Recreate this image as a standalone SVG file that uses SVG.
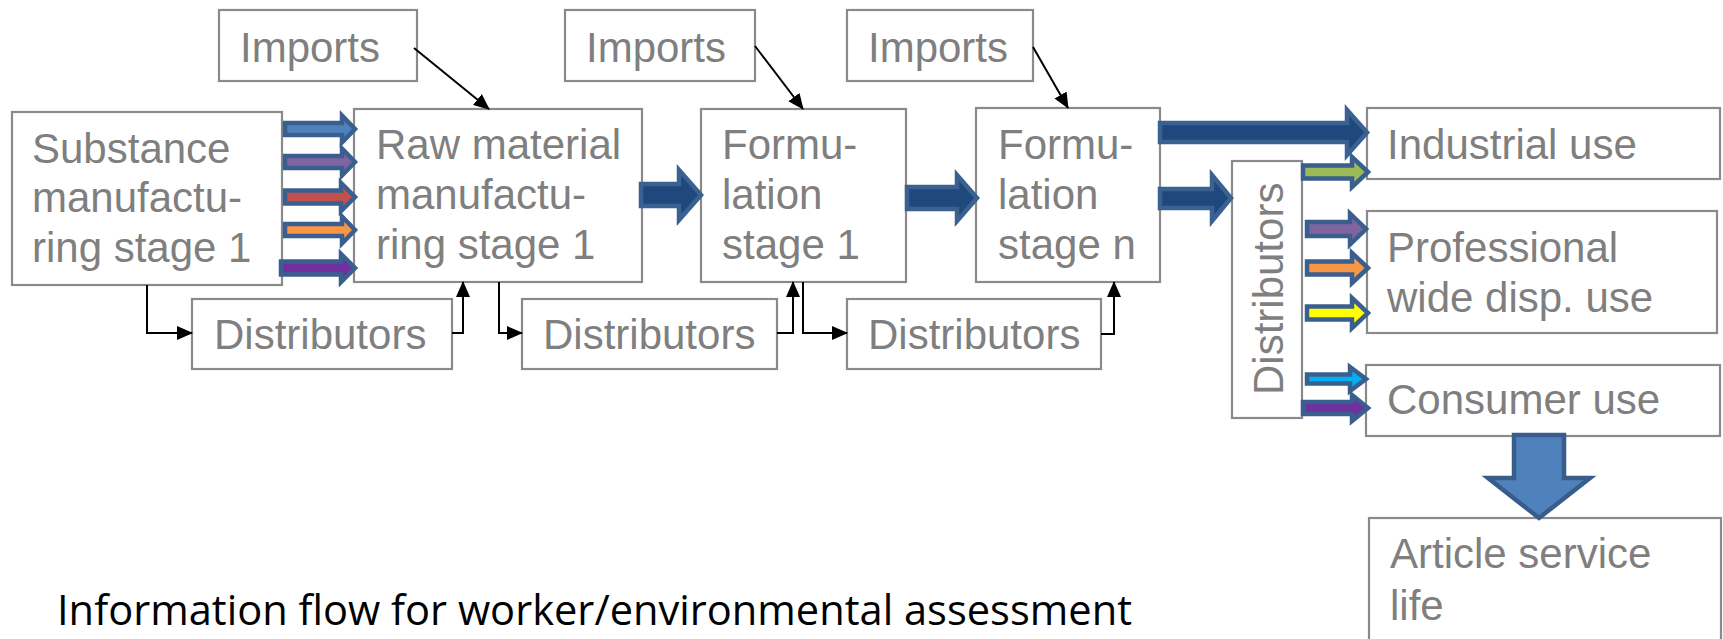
<svg xmlns="http://www.w3.org/2000/svg" width="1723" height="639" viewBox="0 0 1723 639">
  <style>
    .box { fill: #ffffff; stroke: #8a8a8a; stroke-width: 2.2; }
    .lbl { font-family: "Liberation Sans", Arial, sans-serif; font-size: 42px; fill: #7f7f7f; }
    .link { fill: none; stroke: #000000; stroke-width: 2; }
    .big { fill: #1f497d; stroke: #3a6190; stroke-width: 4.5; stroke-linejoin: miter; }
    .small { stroke: #3a5f8f; stroke-width: 4.5; stroke-linejoin: miter; }
    .down { fill: #4f81bd; stroke: #385d8a; stroke-width: 4.5; stroke-linejoin: miter; }
    .caption { font-family: "Open Sans", "Noto Sans", sans-serif; font-size: 42px; fill: #000000; }
  </style>
  <defs>
    <marker id="tri" markerUnits="userSpaceOnUse" markerWidth="16" markerHeight="14" refX="15" refY="7" orient="auto">
      <path d="M0,0 L16,7 L0,14 Z" fill="#000000"/>
    </marker>
  </defs>

  <rect width="1723" height="639" fill="#ffffff"/>

  <!-- upstream stages -->
  <g id="imports-1">
    <rect class="box" x="219" y="10" width="198" height="71"/>
    <text class="lbl" x="240" y="62">Imports</text>
  </g>
  <g id="imports-2">
    <rect class="box" x="565" y="10" width="190" height="71"/>
    <text class="lbl" x="586" y="62">Imports</text>
  </g>
  <g id="imports-3">
    <rect class="box" x="847" y="10" width="186" height="71"/>
    <text class="lbl" x="868" y="62">Imports</text>
  </g>

  <g id="substance">
    <rect class="box" x="12" y="112" width="270" height="173"/>
    <text class="lbl" x="32" y="163">Substance</text>
    <text class="lbl" x="32" y="212">manufactu-</text>
    <text class="lbl" x="32" y="262">ring stage 1</text>
  </g>
  <g id="raw-material">
    <rect class="box" x="354" y="109" width="288" height="173"/>
    <text class="lbl" x="376" y="159">Raw material</text>
    <text class="lbl" x="376" y="209">manufactu-</text>
    <text class="lbl" x="376" y="259">ring stage 1</text>
  </g>
  <g id="formulation-1">
    <rect class="box" x="701" y="109" width="205" height="173"/>
    <text class="lbl" x="722" y="159">Formu-</text>
    <text class="lbl" x="722" y="209">lation</text>
    <text class="lbl" x="722" y="259">stage 1</text>
  </g>
  <g id="formulation-n">
    <rect class="box" x="976" y="108" width="184" height="174"/>
    <text class="lbl" x="998" y="159">Formu-</text>
    <text class="lbl" x="998" y="209">lation</text>
    <text class="lbl" x="998" y="259">stage n</text>
  </g>

  <g id="distributors-1">
    <rect class="box" x="192" y="299" width="260" height="70"/>
    <text class="lbl" x="214" y="349">Distributors</text>
  </g>
  <g id="distributors-2">
    <rect class="box" x="522" y="299" width="255" height="70"/>
    <text class="lbl" x="543" y="349">Distributors</text>
  </g>
  <g id="distributors-3">
    <rect class="box" x="847" y="299" width="254" height="70"/>
    <text class="lbl" x="868" y="349">Distributors</text>
  </g>
  <g id="distributors-4">
    <rect class="box" x="1232" y="161" width="70" height="257"/>
    <text class="lbl" transform="translate(1283,395) rotate(-90)">Distributors</text>
  </g>

  <!-- end uses -->
  <g id="industrial-use">
    <rect class="box" x="1367" y="108" width="353" height="71"/>
    <text class="lbl" x="1387" y="159">Industrial use</text>
  </g>
  <g id="professional-use">
    <rect class="box" x="1367" y="211" width="350" height="122"/>
    <text class="lbl" x="1387" y="262">Professional</text>
    <text class="lbl" x="1387" y="312">wide disp. use</text>
  </g>
  <g id="consumer-use">
    <rect class="box" x="1366" y="365" width="354" height="71"/>
    <text class="lbl" x="1387" y="414">Consumer use</text>
  </g>
  <g id="article-service-life">
    <rect class="box" x="1369" y="518" width="352" height="130"/>
    <text class="lbl" x="1390" y="568">Article service</text>
    <text class="lbl" x="1390" y="620">life</text>
  </g>

  <g id="connectors">
    <!-- imports feeding each stage -->
    <line class="link" x1="414" y1="48" x2="489" y2="109" marker-end="url(#tri)"/>
    <line class="link" x1="755" y1="46" x2="803" y2="109" marker-end="url(#tri)"/>
    <line class="link" x1="1033" y1="47" x2="1068" y2="108" marker-end="url(#tri)"/>

    <!-- routes through distributors -->
    <polyline class="link" points="147,285 147,333 192,333" marker-end="url(#tri)"/>
    <polyline class="link" points="452,333 463,333 463,282" marker-end="url(#tri)"/>
    <polyline class="link" points="499,282 499,333 522,333" marker-end="url(#tri)"/>
    <polyline class="link" points="777,333 793,333 793,282" marker-end="url(#tri)"/>
    <polyline class="link" points="803,282 803,333 847,333" marker-end="url(#tri)"/>
    <polyline class="link" points="1101,334 1114,334 1114,282" marker-end="url(#tri)"/>

    <!-- main flow -->
    <path class="big" d="M641,184 H679 V170 L701,195 L679,220 V206 H641 Z"/>
    <path class="big" d="M907,187 H957 V175 L977,198 L957,221 V209 H907 Z"/>
    <path class="big" d="M1160,123 H1347 V110 L1367,132.5 L1347,155 V142 H1160 Z"/>
    <path class="big" d="M1160,189 H1212 V175 L1231,198 L1212,221 V208 H1160 Z"/>

    <!-- substance streams into raw material manufacturing -->
    <path class="small" fill="#4f81bd" d="M285,123 H342 V115.5 L355,129 L342,142.5 V135 H285 Z"/>
    <path class="small" fill="#8064a2" d="M285,156 H342 V148.5 L355,162 L342,175.5 V168 H285 Z"/>
    <path class="small" fill="#c0504d" d="M285,190.5 H341 V183 L355,197 L341,211 V203.5 H285 Z"/>
    <path class="small" fill="#f79646" d="M285,224 H342 V216.5 L355,230 L342,243.5 V236 H285 Z"/>
    <path class="small" fill="#7030a0" d="M281,261.5 H341 V254 L355,268 L341,282 V274.5 H281 Z"/>

    <!-- distributor streams to end uses -->
    <path class="small" fill="#9bbb59" d="M1303,165.5 H1352 V157 L1368,172 L1352,187 V178.5 H1303 Z"/>
    <path class="small" fill="#8064a2" d="M1307,222 H1350 V213.5 L1366,229 L1350,244.5 V236 H1307 Z"/>
    <path class="small" fill="#f79646" d="M1307,261.5 H1352 V253 L1368,268 L1352,283 V274.5 H1307 Z"/>
    <path class="small" fill="#ffff00" d="M1307,306.5 H1352 V298 L1368,313 L1352,328 V319.5 H1307 Z"/>
    <path class="small" fill="#00b0f0" d="M1307,374.5 H1350 V367 L1366,379 L1350,391 V383.5 H1307 Z"/>
    <path class="small" fill="#7030a0" d="M1303,402 H1352 V395 L1368,408 L1352,421 V414 H1303 Z"/>

    <!-- consumer use into article service life -->
    <path class="down" d="M1514,435 H1564 V478 H1590 L1539,518 L1488,478 H1514 Z"/>
  </g>

  <text class="caption" x="57" y="625" textLength="1075" lengthAdjust="spacingAndGlyphs">Information flow for worker/environmental assessment</text>
</svg>
